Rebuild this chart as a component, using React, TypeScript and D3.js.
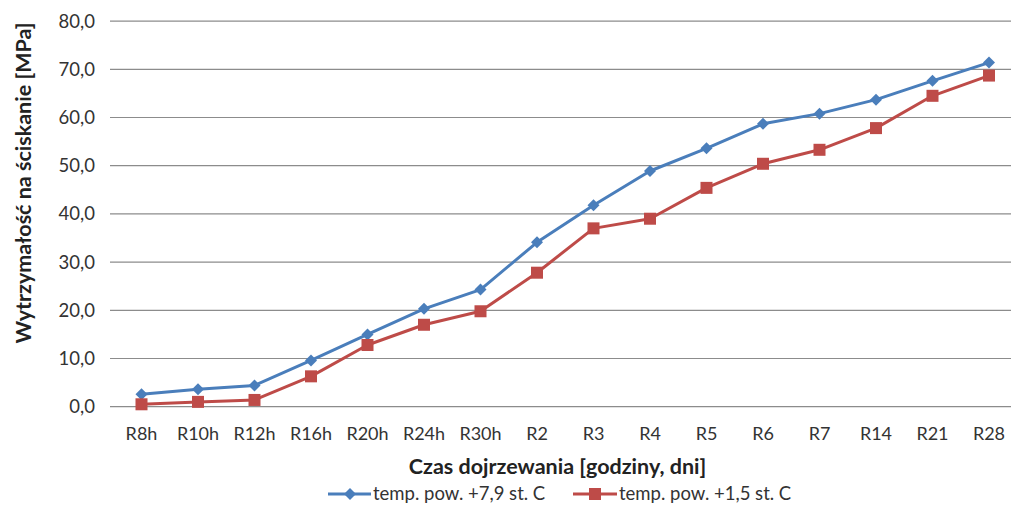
import React from "react";
import * as d3 from "d3";

const categories = ["R8h", "R10h", "R12h", "R16h", "R20h", "R24h", "R30h", "R2", "R3", "R4", "R5", "R6", "R7", "R14", "R21", "R28"];
const seriesWarm = [2.6, 3.6, 4.4, 9.6, 15.0, 20.3, 24.3, 34.1, 41.8, 48.9, 53.6, 58.7, 60.8, 63.7, 67.6, 71.4];
const seriesCold = [0.5, 1.0, 1.4, 6.3, 12.8, 17.0, 19.8, 27.8, 37.0, 39.0, 45.4, 50.4, 53.3, 57.8, 64.5, 68.7];
const yTicks = [0, 10, 20, 30, 40, 50, 60, 70, 80];
const seriesNames = ["temp. pow. +7,9 st. C", "temp. pow. +1,5 st. C"];

const W = 1011;
const H = 507;
const FONT = "Lato, 'Open Sans', sans-serif";
const BLUE = "#4A7EBB";
const RED = "#BE4B48";

export default function App() {
  const x = d3.scaleBand<string>().domain(categories).range([113.25, 1017.25]);
  const y = d3.scaleLinear().domain([0, 80]).range([406.7, 21.1]);
  const cx = (c: string) => (x(c) ?? 0) + x.bandwidth() / 2;
  const line = d3
    .line<number>()
    .x((_, i) => cx(categories[i]))
    .y((d) => y(d));
  const fmt = (v: number) => v.toFixed(1).replace(".", ",");

  const diamond = (px: number, py: number, r: number) =>
    `M${px},${py - r}L${px + r},${py}L${px},${py + r}L${px - r},${py}Z`;

  return (
    <div style={{ position: "absolute", left: 0, top: 0 }}>
      <svg width={W} height={H} style={{ display: "block", background: "#fff" }}>
        {yTicks.map((t) => (
          <g key={t}>
            <line x1={110} x2={W} y1={y(t)} y2={y(t)} stroke="#8c8c8c" strokeWidth={1.2} />
            <text x={95} y={y(t)} dy="0.35em" textAnchor="end" fontFamily={FONT} fontSize={18.5} fill="#333">
              {fmt(t)}
            </text>
          </g>
        ))}
        {categories.map((c) => (
          <text key={c} x={cx(c)} y={434} dy="0.35em" textAnchor="middle" fontFamily={FONT} fontSize={18} fill="#333">
            {c}
          </text>
        ))}
        <path d={line(seriesWarm) ?? ""} fill="none" stroke={BLUE} strokeWidth={3} strokeLinejoin="round" />
        <path d={line(seriesCold) ?? ""} fill="none" stroke={RED} strokeWidth={3} strokeLinejoin="round" />
        {seriesWarm.map((v, i) => (
          <path key={"w" + i} d={diamond(cx(categories[i]), y(v), 6)} fill={BLUE} />
        ))}
        {seriesCold.map((v, i) => (
          <rect key={"c" + i} x={cx(categories[i]) - 6} y={y(v) - 6} width={12} height={12} fill={RED} />
        ))}
        <text
          transform={`translate(23,183) rotate(-90)`}
          dy="0.35em"
          textAnchor="middle"
          fontFamily={FONT}
          fontWeight="bold"
          fontSize={21.5}
          fill="#222"
        >
          Wytrzymałość na ściskanie [MPa]
        </text>
        <text x={557.5} y={466} dy="0.35em" textAnchor="middle" fontFamily={FONT} fontWeight="bold" fontSize={21.5} fill="#222">
          Czas dojrzewania [godziny, dni]
        </text>
        <g>
          <line x1={328} x2={371} y1={494} y2={494} stroke={BLUE} strokeWidth={3} />
          <path d={diamond(350, 494, 6)} fill={BLUE} />
          <text x={373} y={494} dy="0.35em" fontFamily={FONT} fontSize={18.5} fill="#333">
            {seriesNames[0]}
          </text>
          <line x1={573} x2={617} y1={494} y2={494} stroke={RED} strokeWidth={3} />
          <rect x={589} y={488} width={12} height={12} fill={RED} />
          <text x={619} y={494} dy="0.35em" fontFamily={FONT} fontSize={18.5} fill="#333">
            {seriesNames[1]}
          </text>
        </g>
      </svg>
    </div>
  );
}
